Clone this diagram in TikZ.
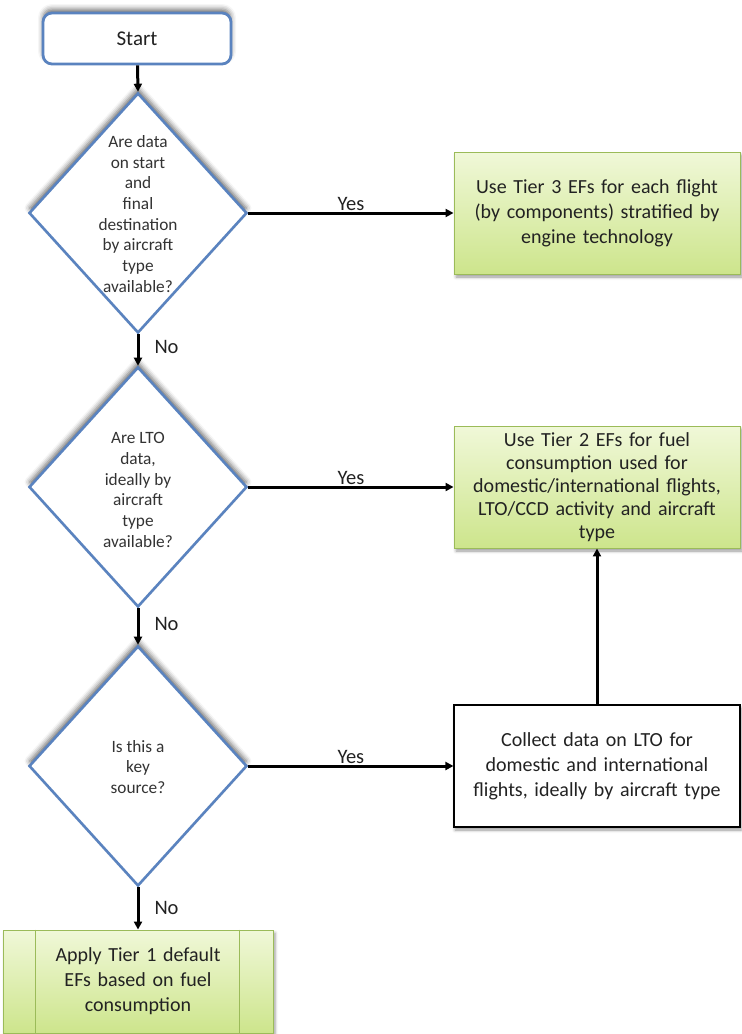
\documentclass[tikz,border=0pt]{standalone}
\usepackage{fontspec}
\setmainfont{Carlito}
\usetikzlibrary{shapes.geometric,arrows.meta,shadows.blur,calc}
\definecolor{bluebd}{HTML}{5A83BF}
\definecolor{greenbd}{HTML}{9BBB59}
\definecolor{greentop}{HTML}{F0F8D8}
\definecolor{greenbot}{HTML}{CDE58C}
\definecolor{txt}{HTML}{222222}
\definecolor{qtxt}{HTML}{333333}
\begin{document}
\begin{tikzpicture}[x=1pt,y=-1pt,
  startbox/.style={draw=bluebd, line width=2.8pt, rounded corners=9pt, fill=white,
    minimum width=188pt, minimum height=51pt, inner sep=0pt,
    font=\fontsize{21}{25}\selectfont, text=txt,
    blur shadow={shadow xshift=0pt, shadow yshift=4pt, shadow blur radius=5pt, shadow opacity=55}},
  decision/.style={diamond, draw=bluebd, line width=2.6pt, fill=white,
    minimum width=218pt, minimum height=240pt, inner sep=0pt,
    blur shadow={shadow xshift=0pt, shadow yshift=5pt, shadow blur radius=5pt, shadow opacity=60}},
  qtext/.style={align=center, font=\fontsize{17.3}{20.7}\selectfont, text=qtxt, inner sep=0pt},
  greenbox/.style={draw=greenbd, line width=0.9pt, top color=greentop, bottom color=greenbot,
    minimum width=286pt, minimum height=122pt, text width=284pt, align=center,
    font=\fontsize{20}{25}\selectfont, text=txt, inner sep=0pt,
    blur shadow={shadow xshift=2pt, shadow yshift=-3pt, shadow blur radius=3pt, shadow opacity=40}},
  whitebox/.style={draw=black, line width=1.1pt, fill=white,
    minimum width=286pt, minimum height=122pt, text width=284pt, align=center,
    font=\fontsize{20}{25}\selectfont, text=txt, inner sep=0pt,
    blur shadow={shadow xshift=1pt, shadow yshift=-3pt, shadow blur radius=3pt, shadow opacity=40}},
  arr/.style={-{Triangle[length=8pt,width=8pt]}, line width=3pt, black},
  lbl/.style={font=\fontsize{20.5}{24}\selectfont, text=txt, inner sep=0pt}
]
\useasboundingbox (0,0) rectangle (742,1034);

\node[startbox] (start) at (137,38.5) {Start};

\node[decision] (d1) at (138,213) {};
\node[qtext] (d1t) at (138,214) {Are data\\on start\\and\\final\\destination\\by aircraft\\type\\available?};

\node[decision] (d2) at (138,487) {};
\node[qtext] (d2t) at (138,490) {Are LTO\\data,\\ideally by\\aircraft\\type\\available?};

\node[decision] (d3) at (138,766) {};
\node[qtext] (d3t) at (138,767) {Is this a\\key\\source?};

\node[greenbox] (g1) at (597,213) {Use Tier 3 EFs for each flight\\(by components) stratified by\\engine technology};

\node[greenbox, font=\fontsize{20}{23}\selectfont] (g2) at (597,487) {Use Tier 2 EFs for fuel\\consumption used for\\domestic/international flights,\\LTO/CCD activity and aircraft\\type};

\node[whitebox] (b3) at (597,766) {Collect data on LTO for\\domestic and international\\flights, ideally by aircraft type};

\node[greenbox, minimum width=270pt, minimum height=103pt, text width=200pt] (g4) at (138,981.5) {Apply Tier 1 default\\EFs based on fuel\\consumption};
\draw[greenbd, line width=0.9pt] ($(g4.north west)+(33,0)$) coordinate (g4a) -- ($(g4.south west)+(33,0)$) coordinate (g4b);
\draw[greenbd, line width=0.9pt] ($(g4.north east)+(-34,0)$) coordinate (g4c) -- ($(g4.south east)+(-34,0)$) coordinate (g4d);

\draw[arr] (start) -- (d1.north);
\draw[arr] (d1.east) -- node[lbl, midway, anchor=base, yshift=3pt] (y1) {Yes} (g1.west);
\draw[arr] (d1.south) -- node[lbl, midway, anchor=west, xshift=15pt, yshift=3pt] (n1) {No} (d2.north);
\draw[arr] (d2.east) -- node[lbl, midway, anchor=base, yshift=3pt] (y2) {Yes} (g2.west);
\draw[arr] (d2.south) -- node[lbl, midway, anchor=west, xshift=15pt, yshift=3pt] (n2) {No} (d3.north);
\draw[arr] (d3.east) -- node[lbl, midway, anchor=base, yshift=3pt] (y3) {Yes} (b3.west);
\draw[arr] (b3.north) -- (g2.south);
\draw[arr] (d3.south) -- node[lbl, midway, anchor=west, xshift=15pt, yshift=0pt] (n3) {No} (g4.north);
\end{tikzpicture}
\end{document}
